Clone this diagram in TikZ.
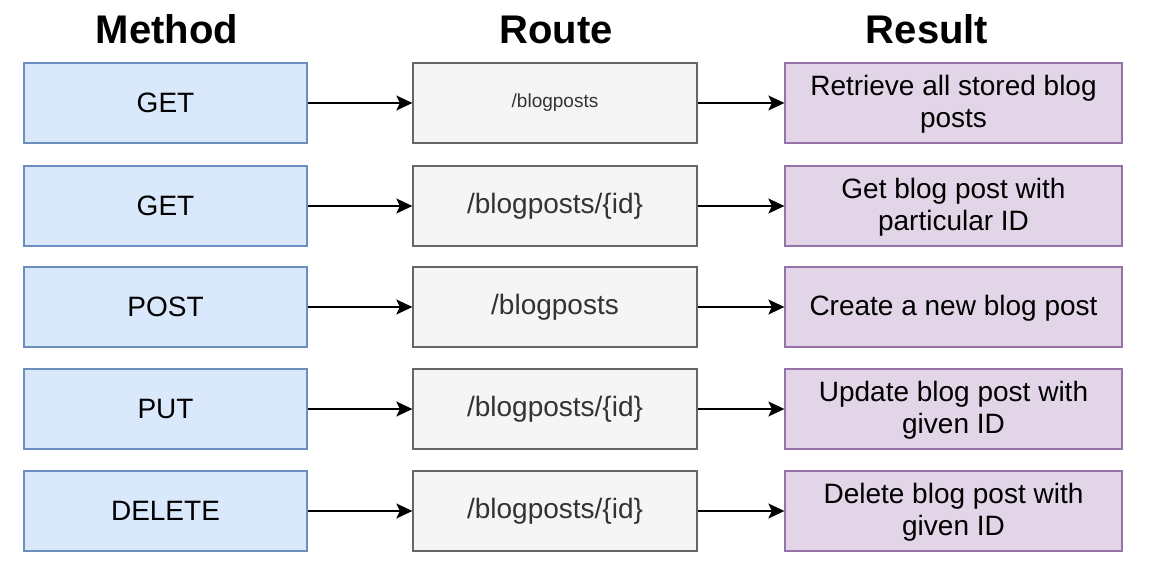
\documentclass[tikz,border=0pt]{standalone}
\usepackage{fontspec}
\setmainfont{Liberation Sans}
\usetikzlibrary{arrows.meta}
\definecolor{mfill}{HTML}{DAE8FC}
\definecolor{mline}{HTML}{6C8EBF}
\definecolor{rfill}{HTML}{F5F5F5}
\definecolor{rline}{HTML}{666666}
\definecolor{rtext}{HTML}{333333}
\definecolor{sfill}{HTML}{E1D5E7}
\definecolor{sline}{HTML}{9673A6}
\begin{document}
\begin{tikzpicture}[x=1pt,y=-1pt,
  header/.style={anchor=base,font=\bfseries\fontsize{40}{44}\selectfont},
  box/.style={draw,line width=1.3pt,inner sep=0pt,minimum height=80pt,align=center,
    font=\fontsize{28}{32}\selectfont},
  methodbox/.style={box,fill=mfill,draw=mline,minimum width=283pt,text=black},
  routebox/.style={box,fill=rfill,draw=rline,minimum width=284pt,text=rtext},
  resultbox/.style={box,fill=sfill,draw=sline,minimum width=337pt,text=black,text depth=3pt},
  conn/.style={line width=1.5pt,-{Stealth[length=16pt,width=15pt,inset=3.5pt]}}]
\useasboundingbox (0,0) rectangle (1173,573);
\fill[white] (0,0) rectangle (1173,573);
\node[header] (h1) at (167,43) {Method};
\node[header] (h2) at (556,43) {Route};
\node[header] (h3) at (927,43) {Result};
% rows
\node[methodbox] (m1) at (165.5,103) {GET};
\node[routebox,font=\fontsize{19}{22}\selectfont] (r1) at (555,103) {/blogposts};
\node[resultbox] (s1) at (953.5,103) {Retrieve all stored blog\\posts};
\node[methodbox] (m2) at (165.5,206) {GET};
\node[routebox] (r2) at (555,206) {/blogposts/\{id\}};
\node[resultbox] (s2) at (953.5,206) {Get blog post with\\particular ID};
\node[methodbox] (m3) at (165.5,307) {POST};
\node[routebox] (r3) at (555,307) {/blogposts};
\node[resultbox] (s3) at (953.5,307) {Create a new blog post};
\node[methodbox] (m4) at (165.5,409) {PUT};
\node[routebox] (r4) at (555,409) {/blogposts/\{id\}};
\node[resultbox] (s4) at (953.5,409) {Update blog post with\\given ID};
\node[methodbox] (m5) at (165.5,511) {DELETE};
\node[routebox] (r5) at (555,511) {/blogposts/\{id\}};
\node[resultbox] (s5) at (953.5,511) {Delete blog post with\\given ID};
\foreach \i in {1,...,5}{
  \draw[conn] (m\i) -- (r\i);
  \draw[conn] (r\i) -- (s\i);
}
\end{tikzpicture}
\end{document}
